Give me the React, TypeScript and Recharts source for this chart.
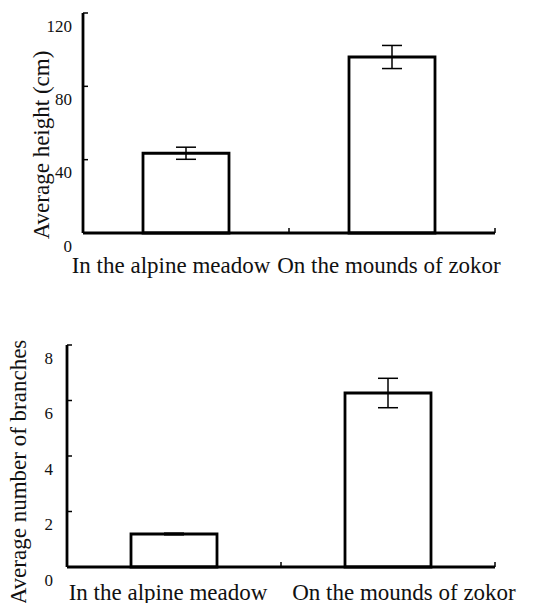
import React from 'react';
import { BarChart, Bar, XAxis, YAxis, ErrorBar } from 'recharts';

const categories = ['In the alpine meadow', 'On the mounds of zokor'];
const heightMeans = [43.5, 96];
const heightErrors = [3.3, 6.3];
const branchMeans = [1.19, 6.27];
const branchErrors = [0.03, 0.53];
const heightTicks = [0, 40, 80, 120];
const branchTicks = [0, 2, 4, 6, 8];

const FONT = '"Liberation Serif", "Times New Roman", serif';

function makeRows(means: number[], errs: number[]) {
  return categories.map((name, i) => ({ name, value: means[i], err: errs[i] }));
}

function YTick(props: any) {
  const { x, y, payload, dy = 13, gap = 12 } = props;
  return (
    <g>
      <line x1={x} x2={x + 5} y1={y} y2={y} stroke="#000" strokeWidth={1.5} />
      <text
        x={x - gap}
        y={y + dy}
        textAnchor="end"
        dominantBaseline="central"
        fontSize={17}
        fontFamily={FONT}
        fill="#111"
      >
        {payload.value}
      </text>
    </g>
  );
}

function XTick(props: any) {
  const { x, y, payload, index, band, dy, shifts } = props;
  const edge = x + band / 2;
  return (
    <g>
      <line x1={edge} x2={edge} y1={y} y2={y - 5} stroke="#000" strokeWidth={1.5} />
      <text
        x={x + (shifts?.[index] ?? 0)}
        y={y + dy}
        textAnchor="middle"
        dominantBaseline="central"
        fontSize={23}
        fontFamily={FONT}
        fill="#111"
      >
        {payload.value}
      </text>
    </g>
  );
}

function Panel({
  rows,
  ticks,
  max,
  height,
  top,
  axisWidth,
  xAxisHeight,
  label,
  labelX,
  labelY,
  labelDy,
  shifts,
  yTickGap,
}: {
  rows: { name: string; value: number; err: number }[];
  ticks: number[];
  max: number;
  height: number;
  top: number;
  axisWidth: number;
  xAxisHeight: number;
  label: string;
  labelX: number;
  labelY: number;
  labelDy: number;
  shifts: number[];
  yTickGap: number;
}) {
  const width = 533;
  const right = 38;
  const band = (width - axisWidth - right) / rows.length;
  return (
    <BarChart
      width={width}
      height={height}
      data={rows}
      margin={{ top, right, left: 0, bottom: 0 }}
      barSize={86}
    >
      <XAxis
        dataKey="name"
        height={xAxisHeight}
        axisLine={{ stroke: '#000', strokeWidth: 2.8 }}
        tickLine={false}
        tickSize={0}
        tickMargin={0}
        interval={0}
        tick={(p: any) => <XTick {...p} band={band} dy={labelDy} shifts={shifts} />}
      />
      <YAxis
        width={axisWidth}
        domain={[0, max]}
        ticks={ticks}
        interval={0}
        axisLine={{ stroke: '#000', strokeWidth: 2.8 }}
        tickLine={false}
        tickSize={0}
        tickMargin={0}
        tick={(p: any) => <YTick {...p} gap={yTickGap} />}
        label={{
          content: () => (
            <text
              x={labelX}
              y={labelY}
              transform={`rotate(-90, ${labelX}, ${labelY})`}
              textAnchor="middle"
              dominantBaseline="central"
              fontSize={23}
              fontFamily={FONT}
              fill="#111"
            >
              {label}
            </text>
          ),
        }}
      />
      <Bar dataKey="value" fill="#fff" stroke="#000" strokeWidth={2.8} isAnimationActive={false}>
        <ErrorBar dataKey="err" width={10} stroke="#000" strokeWidth={1.5} isAnimationActive={false} />
      </Bar>
    </BarChart>
  );
}

export default function App() {
  return (
    <div style={{ position: 'absolute', left: 0, top: 0, width: 533, height: 603, background: '#fff' }}>
      <div style={{ position: 'absolute', left: 0, top: 0 }}>
        <Panel
          rows={makeRows(heightMeans, heightErrors)}
          ticks={heightTicks}
          max={120}
          height={290}
          top={13}
          axisWidth={83}
          xAxisHeight={57}
          label="Average height (cm)"
          labelX={41}
          labelY={145}
          labelDy={32}
          shifts={[-15, -3]}
          yTickGap={11}
        />
      </div>
      <div style={{ position: 'absolute', left: 0, top: 300 }}>
        <Panel
          rows={makeRows(branchMeans, branchErrors)}
          ticks={branchTicks}
          max={8}
          height={303}
          top={45}
          axisWidth={67}
          xAxisHeight={36}
          label="Average number of branches"
          labelX={18}
          labelY={172}
          labelDy={25}
          shifts={[-6, 16]}
          yTickGap={14}
        />
      </div>
    </div>
  );
}
